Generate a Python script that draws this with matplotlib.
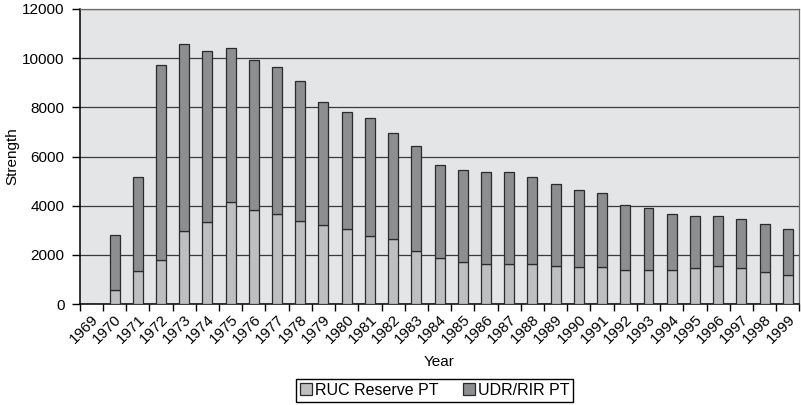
import numpy as np
import matplotlib.pyplot as plt

plt.rcParams['font.family'] = ['Liberation Sans', 'DejaVu Sans']
plt.rcParams['font.size'] = 11

years = [str(y) for y in range(1969, 2000)]
ruc_reserve = [0, 580, 1350, 1810, 2990, 3340, 4140, 3820, 3670, 3400,
               3200, 3050, 2790, 2650, 2180, 1890, 1730, 1640, 1640, 1640,
               1570, 1530, 1500, 1390, 1370, 1370, 1480, 1570, 1460, 1300,
               1200]
total = [0, 2830, 5170, 9700, 10580, 10300, 10430, 9930, 9630, 9080,
         8220, 7820, 7560, 6970, 6420, 5670, 5470, 5380, 5390, 5170,
         4880, 4630, 4510, 4040, 3890, 3660, 3600, 3580, 3470, 3260,
         3060]
udr_rir = [t - r for t, r in zip(total, ruc_reserve)]

light = '#bebfc1'
dark = '#8d8e90'
edge = '#2b2b2b'

fig = plt.figure(figsize=(8.01, 4.05), dpi=100)
ax = fig.add_axes([0.0995, 0.249, 0.8985, 0.729])
ax.set_facecolor('#e4e5e7')

x = np.arange(len(years))
ax.bar(x, ruc_reserve, width=0.43, color=light, edgecolor=edge,
       linewidth=0.9, label='RUC Reserve PT', zorder=3)
ax.bar(x, udr_rir, width=0.43, bottom=ruc_reserve, color=dark,
       edgecolor=edge, linewidth=0.9, label='UDR/RIR PT', zorder=3)

ax.set_xlim(-0.5, len(years) - 0.5)
ax.set_ylim(0, 12000)
ax.set_yticks(np.arange(0, 12001, 2000))
ax.yaxis.grid(True, color='#3a3a3a', linewidth=0.9, zorder=1)
ax.set_axisbelow(True)

# tick marks on category boundaries, labels on category centres
ax.set_xticks(np.arange(-0.5, len(years), 1.0))
ax.set_xticklabels([])
ax.set_xticks(x, minor=True)
ax.set_xticklabels(years, minor=True, rotation=45, ha='right',
                   rotation_mode='anchor')
ax.tick_params(axis='x', which='minor', length=0, pad=6)
ax.tick_params(axis='x', which='major', length=5, width=1, color='black')
ax.tick_params(axis='y', length=6, width=1, color='black', pad=5)

for side in ('left', 'bottom'):
    ax.spines[side].set_color('black')
    ax.spines[side].set_linewidth(1.1)
for side in ('top', 'right'):
    ax.spines[side].set_color('#6a6a6a')
    ax.spines[side].set_linewidth(0.9)

ax.set_ylabel('Strength')
ax.yaxis.set_label_coords(-0.084, 0.5)
ax.set_xlabel('Year')
ax.xaxis.set_label_coords(0.5, -0.172)

ax.legend(loc='center', bbox_to_anchor=(0.5425, 0.037),
          bbox_transform=fig.transFigure, ncol=2, frameon=True,
          fancybox=False, edgecolor='black', framealpha=1,
          handlelength=0.75, handleheight=0.75, handletextpad=0.2,
          columnspacing=1.5, borderpad=0.25, fontsize=11.5)

fig.savefig('out.png', dpi=100)
